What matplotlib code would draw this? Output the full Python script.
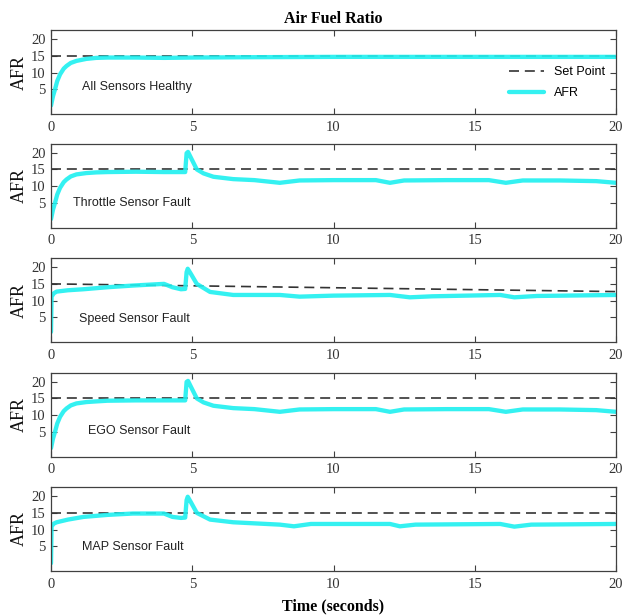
#!/usr/bin/env python3
"""
Air fuel ratio under sensor faults, five stacked panels
"""

import matplotlib
matplotlib.use('Agg')
import matplotlib.pyplot as plt

##################################################################
# data

panel_names = ['All Sensors Healthy', 'Throttle Sensor Fault', 'Speed Sensor Fault',
               'EGO Sensor Fault', 'MAP Sensor Fault']

t_healthy = [0, 0.07, 0.14, 0.22, 0.32, 0.45, 0.55, 0.7, 0.9, 1.25, 1.6, 2, 3, 4, 5, 7, 10, 15, 20]
afr_healthy = [0.2, 3, 5, 7.5, 9.5, 11.2, 12, 12.9, 13.5, 14.1, 14.4, 14.5, 14.5, 14.4, 14.5,
               14.6, 14.7, 14.7, 14.7]

t_throttle = [0, 0.07, 0.14, 0.22, 0.32, 0.45, 0.55, 0.7, 0.9, 1.25, 1.6, 2, 3, 4, 4.75, 4.8,
              4.85, 4.95, 5.16, 5.4, 5.75, 6.45, 7.2, 8.1, 8.8, 10, 11.5, 12.0, 12.5, 14, 15.5,
              16.1, 16.7, 18, 19.3, 20]
afr_throttle = [0.2, 3, 5, 7.5, 9.5, 11.2, 12, 12.9, 13.5, 13.9, 14.1, 14.2, 14.3, 14.2, 14.2,
                19.8, 20.2, 18.5, 15, 13.8, 12.8, 12.1, 11.8, 11.0, 11.7, 11.8, 11.8, 11.0, 11.7,
                11.8, 11.8, 11.0, 11.7, 11.7, 11.5, 11.0]

t_speed = [0, 0.02, 0.1, 0.2, 0.6, 1.15, 2, 2.9, 4, 4.3, 4.6, 4.75, 4.8, 4.84, 4.95, 5.16, 5.63,
           6.45, 8.1, 8.8, 10, 12.0, 12.7, 13.5, 15.9, 16.4, 17.2, 20]
afr_speed = [0.7, 11.2, 12.2, 12.7, 13.1, 13.4, 14.0, 14.5, 15.0, 14.0, 13.4, 13.5, 18.5, 19.5,
             18.0, 15, 12.6, 11.7, 11.7, 11.2, 11.5, 11.7, 11.0, 11.3, 11.7, 11.0, 11.4, 11.7]
sp_speed = [15, 12.7]

t_ego = [0, 0.07, 0.14, 0.22, 0.32, 0.45, 0.55, 0.7, 0.9, 1.25, 1.6, 2, 3, 4, 4.75, 4.8,
         4.85, 4.95, 5.16, 5.4, 5.75, 6.45, 7.2, 8.1, 8.8, 10, 11.5, 12.0, 12.5, 14, 15.5,
         16.1, 16.7, 18, 19.3, 20]
afr_ego = [0.2, 3, 5, 7.5, 9.5, 11.2, 12, 12.9, 13.5, 13.9, 14.1, 14.3, 14.4, 14.4, 14.4,
           19.9, 20.2, 18.5, 15, 13.8, 12.8, 12.1, 11.8, 11.0, 11.7, 11.8, 11.8, 11.0, 11.7,
           11.8, 11.8, 11.0, 11.7, 11.7, 11.5, 11.0]

t_map = [0, 0.02, 0.1, 0.2, 0.6, 1.15, 2, 2.9, 4, 4.3, 4.6, 4.75, 4.8, 4.84, 4.95, 5.16, 5.63,
         6.45, 8.1, 8.6, 9.2, 10, 12.0, 12.35, 12.9, 15.9, 16.4, 17.0, 20]
afr_map = [0, 11.0, 11.8, 12.2, 13.0, 13.8, 14.4, 14.8, 14.8, 13.8, 13.5, 13.6, 18.8, 19.8,
           18.2, 15, 13, 12.2, 11.5, 11.0, 11.7, 11.7, 11.7, 11.0, 11.5, 11.7, 10.9, 11.5, 11.7]

t_sp = [0, 20]
sp_const = [15, 15]

series = [(t_healthy, afr_healthy, sp_const), (t_throttle, afr_throttle, sp_const),
          (t_speed, afr_speed, sp_speed), (t_ego, afr_ego, sp_const), (t_map, afr_map, sp_const)]

x_ticks = [0, 5, 10, 15, 20]
y_ticks = [5, 10, 15, 20]

##################################################################

serif = 'Liberation Serif'
sans = 'Liberation Sans'
W, H = 626, 616
cyan = '#1ef0f0'
edge = '#404040'

fig = plt.figure(figsize=(W / 100, H / 100), dpi=100)

tops = [30, 143.5, 258, 372.5, 487]
left, right, height = 51, 616, 84
text_pos = [(0.055, 0.32), (0.039, 0.29), (0.05, 0.27), (0.066, 0.30), (0.055, 0.29)]

for i, (t, afr, sp) in enumerate(series):
    ax = fig.add_axes([left / W, 1 - (tops[i] + height) / H, (right - left) / W, height / H])
    ax.plot(t_sp, sp, color='#333333', lw=1.2, ls=(0, (6, 3.5)), label='Set Point')
    ax.plot(t, afr, color=cyan, lw=3.1, label='AFR', solid_capstyle='round',
            solid_joinstyle='round', alpha=0.9)
    ax.set_xlim(0, 20)
    ax.set_ylim(-2.3, 22.7)
    ax.set_xticks(x_ticks)
    ax.set_yticks(y_ticks)
    ax.tick_params(direction='in', top=True, right=True, length=4, width=0.8,
                   color=edge, labelcolor='#333333', labelsize=10.5, pad=4)
    ax.tick_params(axis='x', pad=5)
    for lab in ax.get_xticklabels() + ax.get_yticklabels():
        lab.set_family(serif)
    for s in ax.spines.values():
        s.set_color(edge)
        s.set_linewidth(0.9)
    ax.set_ylabel('AFR', family=serif, fontsize=13, labelpad=2, color='#111111')
    ax.text(text_pos[i][0], text_pos[i][1], panel_names[i], transform=ax.transAxes,
            family=sans, fontsize=9, va='center', ha='left', color='#222222')
    if i == 0:
        ax.legend(loc='lower right', frameon=False, prop={'family': sans, 'size': 9},
                  handlelength=2.8, bbox_to_anchor=(1.0, 0.04), labelspacing=0.75)
        ax.set_title('Air Fuel Ratio', family=serif, fontweight='bold', fontsize=11.5, pad=5)

fig.text((left + right) / 2 / W, 1 - 606 / H, 'Time (seconds)', family=serif,
         fontweight='bold', fontsize=11.5, ha='center', va='center')

plt.savefig('out.png', dpi=100)
